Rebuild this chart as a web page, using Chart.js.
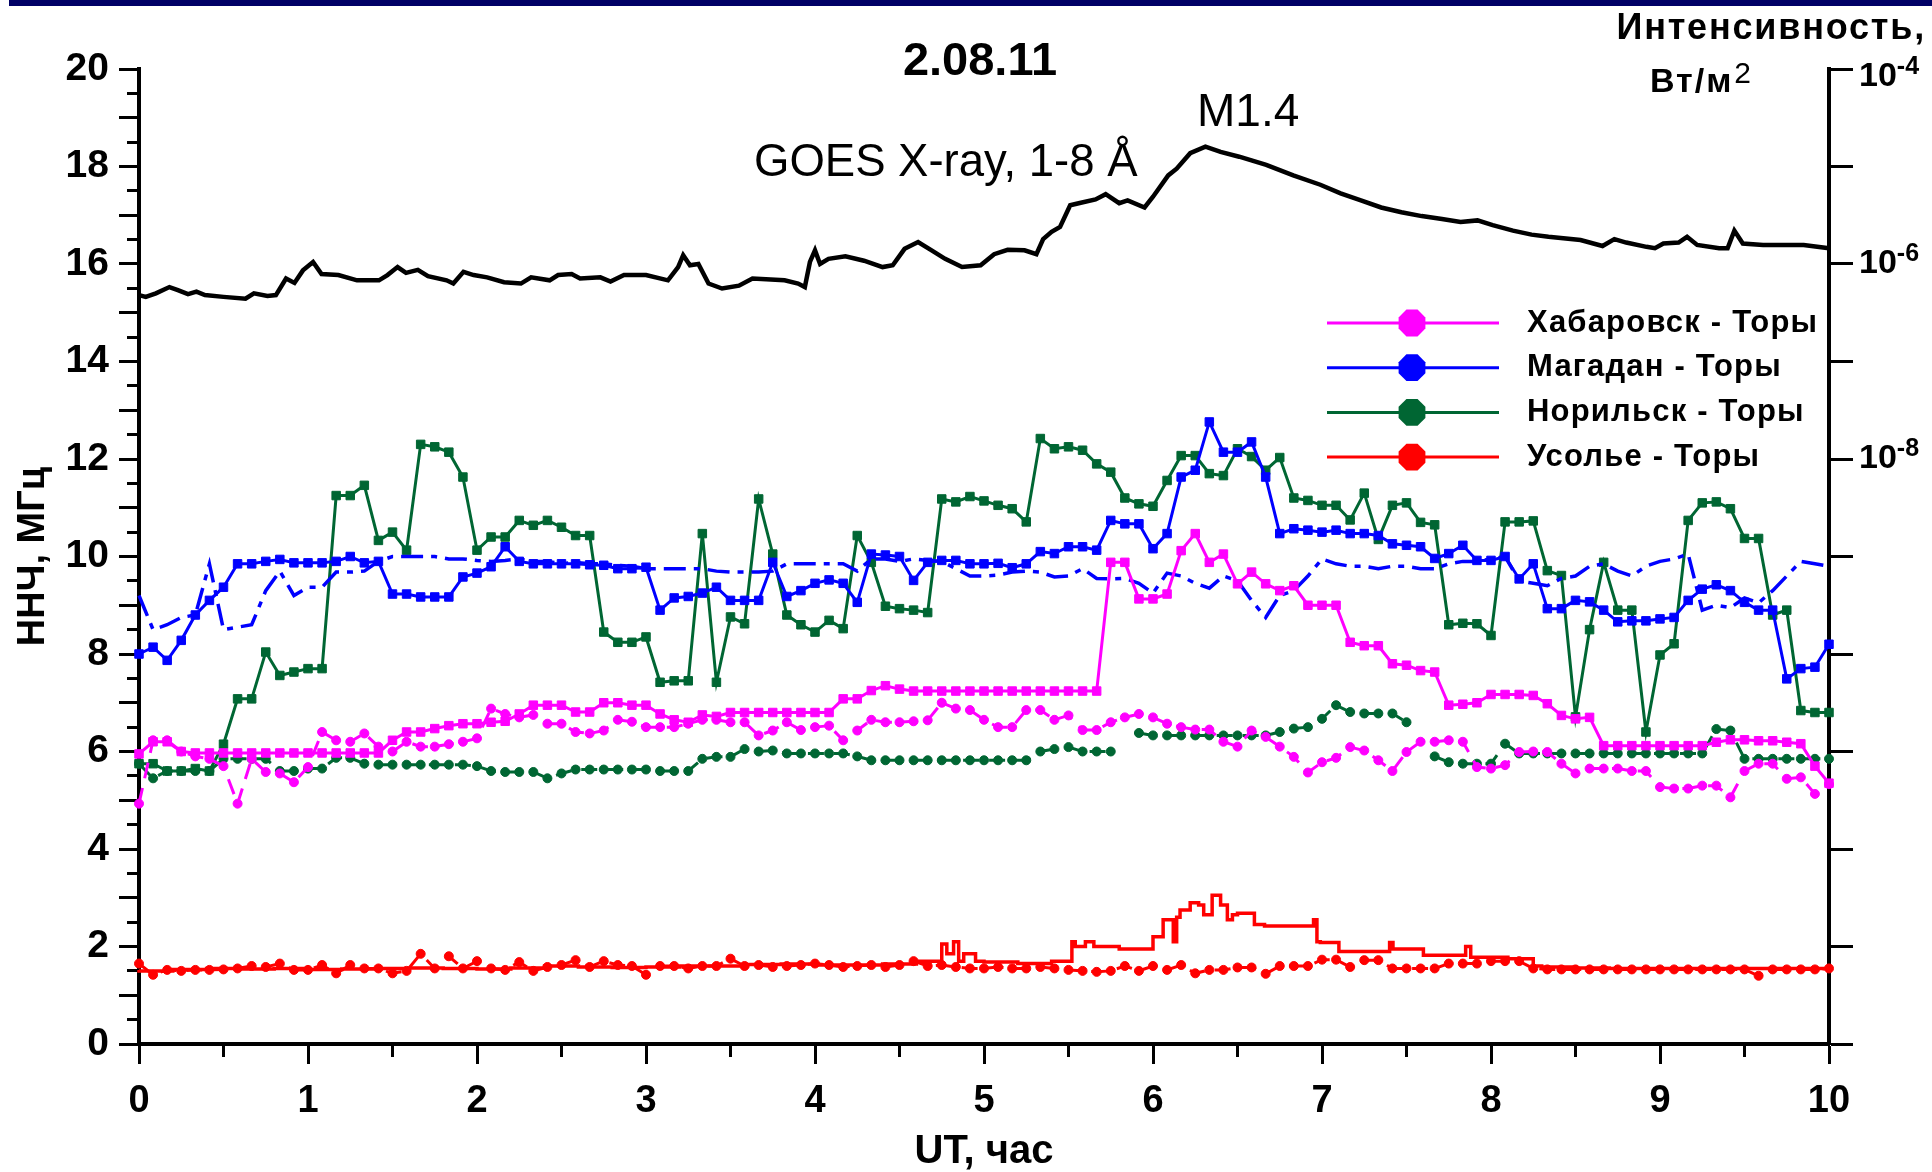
<!DOCTYPE html>
<html>
<head>
<meta charset="utf-8">
<script src="https://cdn.jsdelivr.net/npm/chart.js"></script>
<style>
html, body { margin: 0; padding: 0; background: #fff; }
#wrap { width: 1932px; height: 1172px; }
</style>
</head>
<body>
<div id="wrap"><canvas id="chart" width="1932" height="1172"></canvas></div>
<script>
const FONT = '"Liberation Sans", Arial, sans-serif';

const titleText = '2.08.11';
const xTitle = 'UT, час';
const yTitle = 'ННЧ, МГц';
const goesNote = 'GOES X-ray, 1-8 Å';
const flareClass = 'M1.4';
const rightTitle1 = 'Интенсивность,';
const rightTitle2 = 'Вт/м';

const paths = ['Хабаровск - Торы', 'Магадан - Торы', 'Норильск - Торы', 'Усолье - Торы'];
const pathColors = ['#ff00ff', '#0000ff', '#006633', '#ff0000'];

// right axis: decades of X-ray flux, labelled ones
const fluxDecades = [-14, -13, -12, -11, -10, -9, -8, -7, -6, -5, -4];
const fluxLabelled = [-4, -6, -8];

// GOES 1-8 A flux, W/m^2
const goesHours = [0.00,0.04,0.10,0.18,0.23,0.29,0.34,0.39,0.50,0.63,
  0.68,0.76,0.81,0.87,0.92,0.97,1.03,1.08,1.18,1.29,
  1.42,1.47,1.53,1.58,1.65,1.71,1.82,1.86,1.92,1.98,
  2.06,2.16,2.26,2.32,2.43,2.48,2.56,2.61,2.73,2.79,
  2.87,3.00,3.13,3.19,3.22,3.26,3.31,3.37,3.45,3.55,
  3.63,3.82,3.90,3.94,3.97,4.00,4.03,4.08,4.18,4.29,
  4.40,4.46,4.53,4.61,4.69,4.77,4.87,4.98,5.06,5.14,
  5.24,5.31,5.35,5.40,5.45,5.51,5.56,5.66,5.72,5.80,
  5.85,5.95,6.00,6.09,6.14,6.22,6.31,6.40,6.51,6.67,
  6.83,6.99,7.11,7.23,7.35,7.47,7.59,7.71,7.82,7.92,
  8.01,8.13,8.24,8.34,8.53,8.66,8.73,8.80,8.92,8.97,
  9.02,9.11,9.16,9.22,9.35,9.40,9.44,9.49,9.61,9.85,
  10.00];
const goesFlux = [4.8e-7,4.6e-7,5.0e-7,5.8e-7,5.4e-7,4.9e-7,5.2e-7,4.8e-7,4.6e-7,4.4e-7,
  5.0e-7,4.7e-7,4.8e-7,7.1e-7,6.4e-7,8.6e-7,1.05e-6,7.9e-7,7.7e-7,6.8e-7,
  6.8e-7,7.7e-7,9.3e-7,8.1e-7,8.7e-7,7.5e-7,6.8e-7,6.3e-7,8.3e-7,7.7e-7,
  7.3e-7,6.5e-7,6.3e-7,7.3e-7,6.8e-7,7.7e-7,7.9e-7,7.1e-7,7.3e-7,6.6e-7,
  7.7e-7,7.7e-7,6.8e-7,9.3e-7,1.23e-6,9.7e-7,1.0e-6,6.3e-7,5.6e-7,6.0e-7,
  7.1e-7,6.8e-7,6.3e-7,5.8e-7,1.05e-6,1.38e-6,1.0e-6,1.13e-6,1.2e-6,1.08e-6,
  9.3e-7,9.7e-7,1.43e-6,1.68e-6,1.38e-6,1.13e-6,9.3e-7,9.7e-7,1.26e-6,1.4e-6,
  1.38e-6,1.26e-6,1.8e-6,2.14e-6,2.4e-6,4.0e-6,4.2e-6,4.6e-6,5.2e-6,4.2e-6,
  4.5e-6,3.8e-6,4.9e-6,8.1e-6,9.5e-6,1.37e-5,1.6e-5,1.41e-5,1.26e-5,1.04e-5,
  8.1e-6,6.5e-6,5.3e-6,4.5e-6,3.8e-6,3.4e-6,3.1e-6,2.9e-6,2.7e-6,2.8e-6,
  2.5e-6,2.2e-6,2.0e-6,1.9e-6,1.76e-6,1.53e-6,1.8e-6,1.66e-6,1.5e-6,1.45e-6,
  1.62e-6,1.66e-6,1.9e-6,1.57e-6,1.45e-6,1.45e-6,2.2e-6,1.62e-6,1.57e-6,1.57e-6,
  1.45e-6];

// station series, one value every 5 min from 0 to 10 UT (MHz)
const khabSolid = [5.95,6.2,6.2,6.0,5.97,5.97,5.97,5.97,5.97,5.97,
  5.97,5.97,5.97,5.97,5.97,5.97,5.97,5.97,6.23,6.4,
  6.4,6.47,6.53,6.57,6.57,6.6,6.62,6.77,6.95,6.95,
  6.95,6.81,6.81,7.0,7.0,6.95,6.95,6.77,6.65,6.6,
  6.75,6.72,6.8,6.8,6.8,6.8,6.8,6.8,6.8,6.8,
  7.08,7.08,7.25,7.35,7.28,7.24,7.24,7.24,7.24,7.24,
  7.24,7.24,7.24,7.24,7.24,7.24,7.24,7.24,7.24,9.88,
  9.88,9.13,9.13,9.23,10.12,10.47,9.88,10.05,9.44,9.68,
  9.44,9.3,9.4,9.0,9.0,9.0,8.24,8.17,8.17,7.8,
  7.77,7.66,7.63,6.95,6.97,7.0,7.17,7.17,7.17,7.15,
  6.98,6.74,6.67,6.7,6.12,6.12,6.12,6.12,6.12,6.12,
  6.12,6.12,6.19,6.24,6.24,6.22,6.22,6.19,6.16,5.7,
  5.35];
const khabDots = [4.93,6.23,6.23,6.0,5.9,5.85,5.7,4.93,5.85,5.58,
  5.55,5.37,5.68,6.4,6.23,6.2,6.37,6.1,6.0,6.2,
  6.1,6.1,6.15,6.2,6.27,6.88,6.77,6.7,6.75,6.57,
  6.57,6.4,6.37,6.43,6.65,6.61,6.5,6.5,6.5,6.57,
  6.65,6.65,6.6,6.6,6.33,6.43,6.6,6.44,6.5,6.53,
  6.23,6.43,6.65,6.6,6.6,6.62,6.64,7.0,6.88,6.85,
  6.65,6.5,6.5,6.85,6.85,6.65,6.74,6.44,6.44,6.6,
  6.7,6.77,6.7,6.57,6.5,6.45,6.45,6.2,6.1,6.43,
  6.3,6.1,5.89,5.57,5.78,5.87,6.09,6.02,5.82,5.6,
  5.99,6.2,6.2,6.23,6.2,5.68,5.65,5.72,5.99,6.0,
  5.99,5.75,5.55,5.65,5.65,5.65,5.6,5.6,5.27,5.24,
  5.24,5.3,5.3,5.06,5.6,5.75,5.75,5.44,5.47,5.13,
  5.33];
const magSolid = [8.0,8.14,7.87,8.28,8.8,9.1,9.37,9.85,9.85,9.9,
  9.94,9.87,9.87,9.87,9.9,10.0,9.87,9.9,9.23,9.23,
  9.17,9.17,9.17,9.58,9.66,9.79,10.2,9.9,9.85,9.85,
  9.85,9.85,9.83,9.82,9.75,9.75,9.78,8.9,9.15,9.18,
  9.25,9.37,9.1,9.1,9.1,9.88,9.18,9.3,9.45,9.52,
  9.45,9.06,10.05,10.03,10.0,9.51,9.88,9.92,9.92,9.85,
  9.85,9.86,9.77,9.85,10.1,10.06,10.2,10.2,10.13,10.74,
  10.67,10.67,10.16,10.47,11.63,11.77,12.76,12.14,12.14,12.35,
  11.63,10.47,10.57,10.54,10.5,10.54,10.47,10.47,10.43,10.26,
  10.23,10.2,9.96,10.06,10.23,9.92,9.92,10.0,9.54,9.85,
  8.93,8.93,9.1,9.07,8.9,8.66,8.68,8.68,8.72,8.75,
  9.1,9.33,9.42,9.3,9.06,8.9,8.9,7.49,7.7,7.73,
  8.2];
const magDash = [9.2,8.5,8.6,8.75,8.8,9.85,8.5,8.55,8.6,9.3,
  9.7,9.2,9.37,9.37,9.68,9.68,9.7,9.9,10.0,10.0,
  10.0,10.0,9.95,9.95,9.92,9.9,9.92,9.95,9.9,9.9,
  9.85,9.88,9.85,9.85,9.82,9.8,9.75,9.75,9.75,9.75,
  9.75,9.7,9.68,9.68,9.68,9.7,9.85,9.85,9.85,9.85,
  9.85,9.7,9.95,9.95,9.9,9.95,9.92,9.9,9.75,9.6,
  9.6,9.62,9.68,9.7,9.68,9.58,9.6,9.75,9.55,9.54,
  9.55,9.45,9.25,9.66,9.6,9.45,9.35,9.6,9.5,9.1,
  8.75,9.2,9.3,9.6,9.95,9.85,9.8,9.8,9.75,9.8,
  9.8,9.75,9.75,9.85,9.9,9.9,9.95,10.0,9.5,9.45,
  9.4,9.55,9.6,9.8,9.85,9.7,9.6,9.8,9.9,9.95,
  10.05,8.9,9.0,8.95,9.15,9.05,9.3,9.6,9.9,9.85,
  9.8];
const norSolid = [5.75,5.75,5.6,5.6,5.65,5.6,6.15,7.08,7.08,8.04,
  7.56,7.63,7.7,7.7,11.25,11.25,11.46,10.33,10.5,10.13,
  12.3,12.25,12.14,11.63,10.13,10.4,10.4,10.74,10.64,10.74,
  10.6,10.43,10.43,8.45,8.24,8.24,8.35,7.42,7.45,7.45,
  10.47,7.42,8.76,8.62,11.18,10.05,8.8,8.6,8.45,8.69,
  8.52,10.43,9.88,8.98,8.93,8.9,8.85,11.18,11.12,11.23,
  11.14,11.05,10.98,10.71,12.42,12.21,12.25,12.18,11.9,11.73,
  11.2,11.08,11.03,11.56,12.07,12.07,11.7,11.66,12.21,12.05,
  11.77,12.03,11.2,11.15,11.05,11.05,10.75,11.3,10.35,11.05,
  11.1,10.7,10.65,8.6,8.63,8.62,8.38,10.71,10.71,10.73,
  9.71,9.61,6.71,8.5,9.88,8.9,8.9,6.4,7.98,8.21,
  10.74,11.1,11.12,10.98,10.37,10.37,8.8,8.9,6.84,6.8,
  6.8];
const norDots = [5.75,5.45,5.6,5.6,5.6,5.6,5.85,5.85,5.85,5.85,
  5.6,5.6,5.65,5.65,5.87,5.87,5.75,5.73,5.73,5.73,
  5.73,5.73,5.73,5.73,5.7,5.6,5.58,5.58,5.58,5.45,
  5.55,5.63,5.63,5.63,5.63,5.63,5.63,5.6,5.6,5.6,
  5.85,5.89,5.89,6.05,6.0,6.02,5.96,5.96,5.96,5.96,
  5.96,5.9,5.82,5.82,5.82,5.82,5.82,5.82,5.82,5.82,
  5.82,5.82,5.82,5.82,6.0,6.05,6.09,6.0,6.0,6.0,
  null,6.38,6.33,6.33,6.33,6.33,6.33,6.33,6.33,6.33,
  6.33,6.4,6.47,6.5,6.67,6.95,6.81,6.78,6.78,6.78,
  6.6,null,5.9,5.78,5.75,5.75,5.75,6.16,5.96,5.96,
  5.96,5.96,5.96,5.96,5.96,5.96,5.96,5.96,5.96,5.96,
  5.96,5.96,6.46,6.43,5.85,5.85,5.85,5.85,5.85,5.85,
  5.85];
const usoDots = [1.65,1.42,1.52,1.5,1.52,1.52,1.53,1.55,1.6,1.58,
  1.65,1.52,1.52,1.62,1.45,1.62,1.55,1.55,1.45,1.5,
  1.85,1.55,1.8,1.55,1.7,1.55,1.52,1.68,1.5,1.58,
  1.62,1.72,1.58,1.7,1.62,1.6,1.42,1.6,1.6,1.55,
  1.6,1.6,1.75,1.6,1.62,1.58,1.6,1.62,1.65,1.62,
  1.58,1.6,1.62,1.58,1.62,1.7,1.6,1.62,1.58,1.55,
  1.55,1.58,1.55,1.55,1.58,1.55,1.52,1.5,1.48,1.5,
  1.6,1.5,1.6,1.52,1.62,1.45,1.52,1.52,1.57,1.57,
  1.44,1.6,1.6,1.6,1.73,1.73,1.58,1.72,1.72,1.55,
  1.55,1.55,1.55,1.65,1.65,1.65,1.7,1.7,1.7,1.55,
  1.53,1.53,1.53,1.53,1.53,1.53,1.53,1.53,1.53,1.53,
  1.53,1.53,1.53,1.53,1.53,1.4,1.53,1.53,1.53,1.53,
  1.55];

// Usolye dense record (irregular times)
const usoHours = [0.0,0.2,0.4,0.6,0.8,1.0,1.2,1.4,1.6,1.8,
  2.0,2.2,2.4,2.6,2.8,3.0,3.2,3.4,3.6,3.8,
  4.0,4.2,4.4,4.6,4.75,4.78,4.82,4.85,4.88,4.95,
  5.0,5.2,5.4,5.52,5.54,5.6,5.65,5.7,5.8,5.9,
  6.0,6.02,6.06,6.08,6.12,6.14,6.16,6.22,6.27,6.3,
  6.35,6.4,6.44,6.47,6.5,6.6,6.66,6.75,6.85,6.95,
  6.97,6.99,7.1,7.14,7.3,7.4,7.42,7.44,7.6,7.66,
  7.85,7.88,7.92,8.1,8.25,8.3,8.5,8.7,9.0,9.3,
  9.6,10.0];
const usoLine = [1.52,1.5,1.53,1.55,1.54,1.55,1.53,1.54,1.55,1.56,
  1.55,1.54,1.56,1.6,1.58,1.57,1.58,1.6,1.6,1.63,
  1.64,1.62,1.62,1.64,1.7,2.05,1.85,2.1,1.7,1.85,
  1.7,1.68,1.65,1.7,2.1,2.0,2.1,2.0,2.0,1.95,
  1.95,2.2,2.2,2.55,2.55,2.1,2.6,2.75,2.9,2.85,
  2.65,3.05,2.85,2.55,2.65,2.68,2.45,2.42,2.42,2.42,
  2.55,2.1,2.08,1.9,1.9,1.9,2.08,1.95,1.95,1.82,
  1.82,2.0,1.78,1.78,1.75,1.6,1.58,1.56,1.55,1.55,
  1.55,1.55];

const stepMin = 5;
const onGrid = vals => vals.map((v, i) => ({ x: i * stepMin / 60, y: v }));
const pair = (ts, vs) => ts.map((t, i) => ({ x: t, y: vs[i] }));

function series(label, data, color, extra) {
  return Object.assign({
    label: label, data: data,
    borderColor: color, backgroundColor: color,
    pointBackgroundColor: color, pointBorderColor: color, pointBorderWidth: 1,
    borderWidth: 3, pointRadius: 0, tension: 0, spanGaps: false, clip: 8
  }, extra || {});
}

const squares = { pointStyle: 'rect', pointRadius: 6 };
const dots = { pointStyle: 'circle', pointRadius: 4.5, borderDash: [16, 10] };

function octagon(ctx, x, y, r) {
  ctx.beginPath();
  for (let k = 0; k < 8; k++) {
    const a = Math.PI / 8 + k * Math.PI / 4;
    const px = x + r * Math.cos(a), py = y + r * Math.sin(a);
    if (k === 0) ctx.moveTo(px, py); else ctx.lineTo(px, py);
  }
  ctx.closePath();
  ctx.fill();
}

const decor = {
  id: 'decor',
  beforeDraw(chart) {
    const c = chart.ctx;
    c.save();
    c.fillStyle = '#fff';
    c.fillRect(0, 0, chart.width, chart.height);
    c.fillStyle = '#000066';
    c.fillRect(9, 0, chart.width - 9, 6);
    c.restore();
  },
  afterDraw(chart) {
    const c = chart.ctx, area = chart.chartArea, yR = chart.scales.yR;
    c.save();
    c.fillStyle = '#000';
    c.textBaseline = 'middle';

    c.textAlign = 'center';
    c.font = 'bold 47px ' + FONT;
    c.fillText(titleText, 980, 62);

    c.textAlign = 'left';
    c.font = '45.5px ' + FONT;
    c.fillText(goesNote, 754, 163);
    c.font = '46px ' + FONT;
    c.fillText(flareClass, 1197, 113);

    // right axis title
    c.textAlign = 'right';
    c.letterSpacing = '1.8px';
    c.font = 'bold 36px ' + FONT;
    c.fillText(rightTitle1, 1926, 29);
    c.textAlign = 'left';
    c.textBaseline = 'alphabetic';
    c.letterSpacing = '2px';
    c.font = 'bold 34px ' + FONT;
    c.fillText(rightTitle2, 1650, 92);
    const w2 = c.measureText(rightTitle2).width;
    c.letterSpacing = '0px';
    c.font = '30px ' + FONT;
    c.fillText('2', 1650 + w2 + 1, 83);

    // right axis decade labels
    c.textBaseline = 'middle';
    fluxLabelled.forEach(e => {
      const y = Math.max(yR.getPixelForValue(Math.pow(10, e)), area.top + 8);
      c.font = 'bold 34px ' + FONT;
      c.fillText('10', 1859, y);
      const w = c.measureText('10').width;
      c.font = 'bold 25px ' + FONT;
      c.fillText('-' + (-e), 1859 + w, y - 10);
    });

    // legend
    paths.forEach((name, k) => {
      const y = 323 + k * 44.7;
      c.strokeStyle = pathColors[k];
      c.fillStyle = pathColors[k];
      c.lineWidth = 3;
      c.beginPath();
      c.moveTo(1327, y);
      c.lineTo(1499, y);
      c.stroke();
      octagon(c, 1412, y, 14.5);
      c.fillStyle = '#000';
      c.letterSpacing = '1.2px';
      c.font = 'bold 31px ' + FONT;
      c.fillText(name, 1527, y);
    });
    c.restore();
  }
};

new Chart(document.getElementById('chart'), {
  type: 'line',
  data: {
    datasets: [
      series('GOES', pair(goesHours, goesFlux), '#000000', { yAxisID: 'yR', borderWidth: 4.5 }),
      series(paths[0], onGrid(khabSolid), pathColors[0], squares),
      series(paths[0] + ' *', onGrid(khabDots), pathColors[0], dots),
      series(paths[1], onGrid(magSolid), pathColors[1], squares),
      series(paths[1] + ' *', onGrid(magDash), pathColors[1], { borderWidth: 3.5, borderDash: [22, 8, 6, 8] }),
      series(paths[2], onGrid(norSolid), pathColors[2], squares),
      series(paths[2] + ' *', onGrid(norDots), pathColors[2], dots),
      series(paths[3], pair(usoHours, usoLine), pathColors[3], { borderWidth: 3.5, stepped: 'after' }),
      series(paths[3] + ' *', onGrid(usoDots), pathColors[3], dots)
    ]
  },
  options: {
    responsive: false,
    animation: false,
    devicePixelRatio: 1,
    events: [],
    layout: { padding: { top: 69, left: 0, right: 0, bottom: 0 } },
    plugins: {
      legend: { display: false },
      tooltip: { enabled: false },
      title: { display: false }
    },
    scales: {
      x: {
        type: 'linear', position: 'bottom', min: 0, max: 10,
        afterFit: s => { s.height = 128; },
        ticks: {
          stepSize: 0.5, autoSkip: false, maxRotation: 0, color: '#000', padding: 15,
          font: { family: FONT, size: 38, weight: 'bold' },
          callback: v => Number.isInteger(v) ? v : ''
        },
        grid: {
          drawOnChartArea: false, drawTicks: true, tickLength: 20, tickWidth: 3, tickColor: '#000',
          tickBorderDash: ctx => Number.isInteger(ctx.tick.value) ? [] : [11, 100]
        },
        border: { display: true, width: 4, color: '#000' },
        title: {
          display: true, text: xTitle, color: '#000', padding: { top: 0, bottom: 0 },
          font: { family: FONT, size: 40, weight: 'bold', lineHeight: 1 }
        }
      },
      y: {
        type: 'linear', position: 'left', min: 0, max: 20,
        afterFit: s => { s.width = 139; },
        ticks: {
          stepSize: 0.5, autoSkip: false, color: '#000', padding: 10,
          font: { family: FONT, size: 39, weight: 'bold' },
          callback: v => v % 2 === 0 ? v : ''
        },
        grid: {
          drawOnChartArea: false, drawTicks: true, tickLength: 20, tickWidth: 3, tickColor: '#000',
          tickBorderDash: ctx => Number.isInteger(ctx.tick.value) ? [] : [0, 8, 11, 100]
        },
        border: { display: true, width: 4, color: '#000' },
        title: {
          display: true, text: yTitle, color: '#000', padding: { top: 15, bottom: 0 },
          font: { family: FONT, size: 38, weight: 'bold', lineHeight: 1 }
        }
      },
      yR: {
        type: 'logarithmic', position: 'right', min: 1e-14, max: 1e-4,
        afterFit: s => { s.width = 103; },
        afterBuildTicks: s => { s.ticks = fluxDecades.map(e => ({ value: Math.pow(10, e) })); },
        ticks: { display: false },
        grid: { drawOnChartArea: false, drawTicks: true, tickLength: 24, tickWidth: 3, tickColor: '#000' },
        border: { display: true, width: 4, color: '#000' }
      }
    }
  },
  plugins: [decor]
});
</script>
</body>
</html>
